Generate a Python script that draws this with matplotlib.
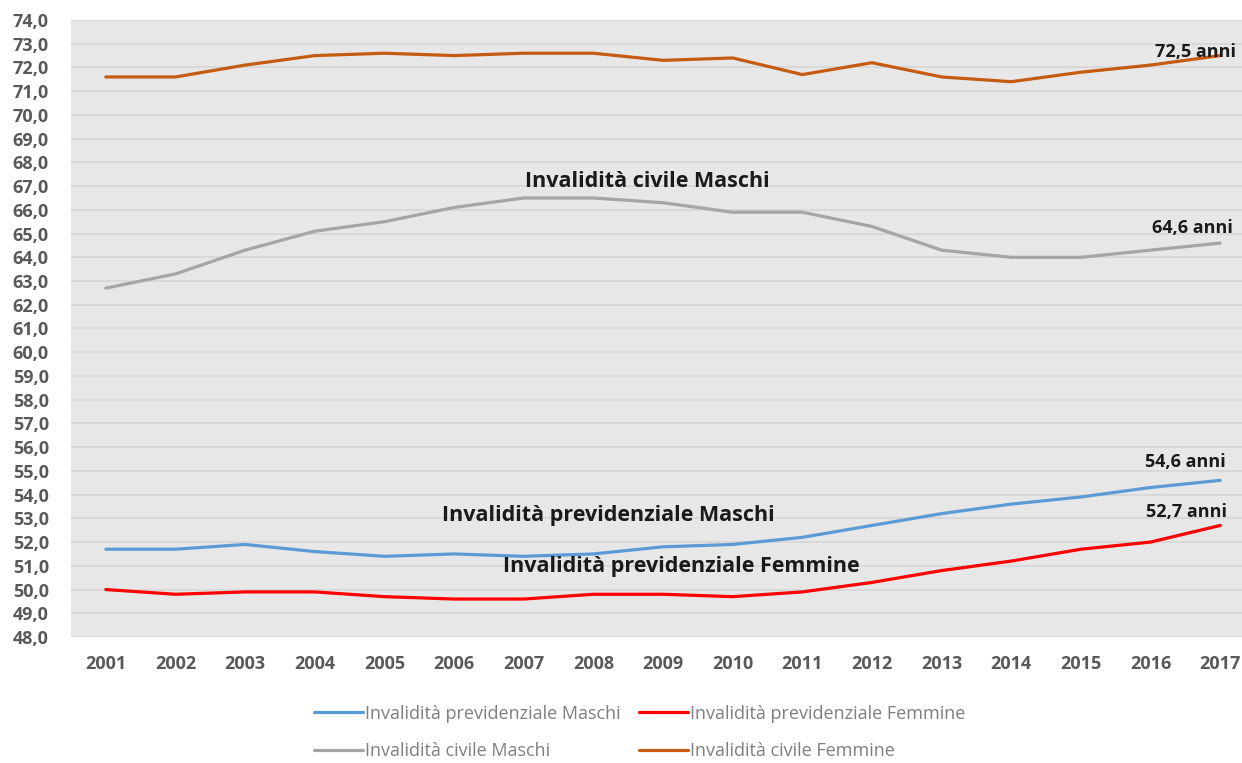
import numpy as np
import matplotlib
matplotlib.use('Agg')
import matplotlib.pyplot as plt
from matplotlib.ticker import FuncFormatter, MultipleLocator

plt.rcParams['font.family'] = ['Open Sans', 'DejaVu Sans']

years = list(range(2001, 2018))

prev_maschi = [51.7, 51.7, 51.9, 51.6, 51.4, 51.5, 51.4, 51.5, 51.8, 51.9,
               52.2, 52.7, 53.2, 53.6, 53.9, 54.3, 54.6]
prev_femmine = [50.0, 49.8, 49.9, 49.9, 49.7, 49.6, 49.6, 49.8, 49.8, 49.7,
                49.9, 50.3, 50.8, 51.2, 51.7, 52.0, 52.7]
civ_maschi = [62.7, 63.3, 64.3, 65.1, 65.5, 66.1, 66.5, 66.5, 66.3, 65.9,
              65.9, 65.3, 64.3, 64.0, 64.0, 64.3, 64.6]
civ_femmine = [71.6, 71.6, 72.1, 72.5, 72.6, 72.5, 72.6, 72.6, 72.3, 72.4,
               71.7, 72.2, 71.6, 71.4, 71.8, 72.1, 72.5]

series_names = ['Invalidità previdenziale Maschi', 'Invalidità previdenziale Femmine',
                'Invalidità civile Maschi', 'Invalidità civile Femmine']
colors = ['#5B9BD5', '#FF0000', '#A5A5A5', '#C55A11']

fig = plt.figure(figsize=(12.42, 7.63), dpi=100)
ax = fig.add_axes([71 / 1242, 1 - 637 / 763, 1184 / 1242, 617 / 763])
ax.set_facecolor('#E7E7E7')

lines = []
for vals, name, c in zip([prev_maschi, prev_femmine, civ_maschi, civ_femmine], series_names, colors):
    ln, = ax.plot(years, vals, color=c, lw=2.3, label=name, solid_capstyle='round')
    lines.append(ln)

ax.set_xlim(2000.5, 2017.5)
ax.set_ylim(48, 74)
ax.yaxis.set_major_locator(MultipleLocator(1))
ax.yaxis.set_major_formatter(FuncFormatter(lambda v, p: f'{v:.1f}'.replace('.', ',')))
ax.set_xticks(years)
ax.grid(axis='y', color='#D6D6D6', lw=1.2)
ax.set_axisbelow(True)
for s in ax.spines.values():
    s.set_visible(False)
ax.tick_params(length=0, colors='#595959', labelsize=13)
ax.tick_params(axis='x', pad=13)
ax.tick_params(axis='y', pad=16)
for lbl in ax.get_xticklabels() + ax.get_yticklabels():
    lbl.set_fontweight('bold')

# series labels
big = dict(fontsize=15.5, fontweight='bold', color='#1A1A1A', ha='center', va='center')
ax.text(2008.78, 67.2, 'Invalidità civile Maschi', **big)
ax.text(2008.22, 53.14, 'Invalidità previdenziale Maschi', **big)
ax.text(2009.26, 50.95, 'Invalidità previdenziale Femmine', **big)

small = dict(fontsize=13, fontweight='bold', color='#1A1A1A', ha='center', va='center')
ax.text(2016.64, 72.65, '72,5 anni', **small)
ax.text(2016.6, 65.23, '64,6 anni', **small)
ax.text(2016.5, 55.37, '54,6 anni', **small)
ax.text(2016.52, 53.27, '52,7 anni', **small)

# legend order: row-wise like the original
order = [0, 2, 1, 3]
leg = fig.legend([lines[i] for i in order], [series_names[i] for i in order],
                 loc='center', bbox_to_anchor=(0.515, 0.04), ncol=2, frameon=False,
                 fontsize=13, handlelength=2.75, handletextpad=0.1, columnspacing=1.0,
                 labelspacing=1.1)
for t in leg.get_texts():
    t.set_color('#7F7F7F')

fig.savefig('out.png', dpi=100)
